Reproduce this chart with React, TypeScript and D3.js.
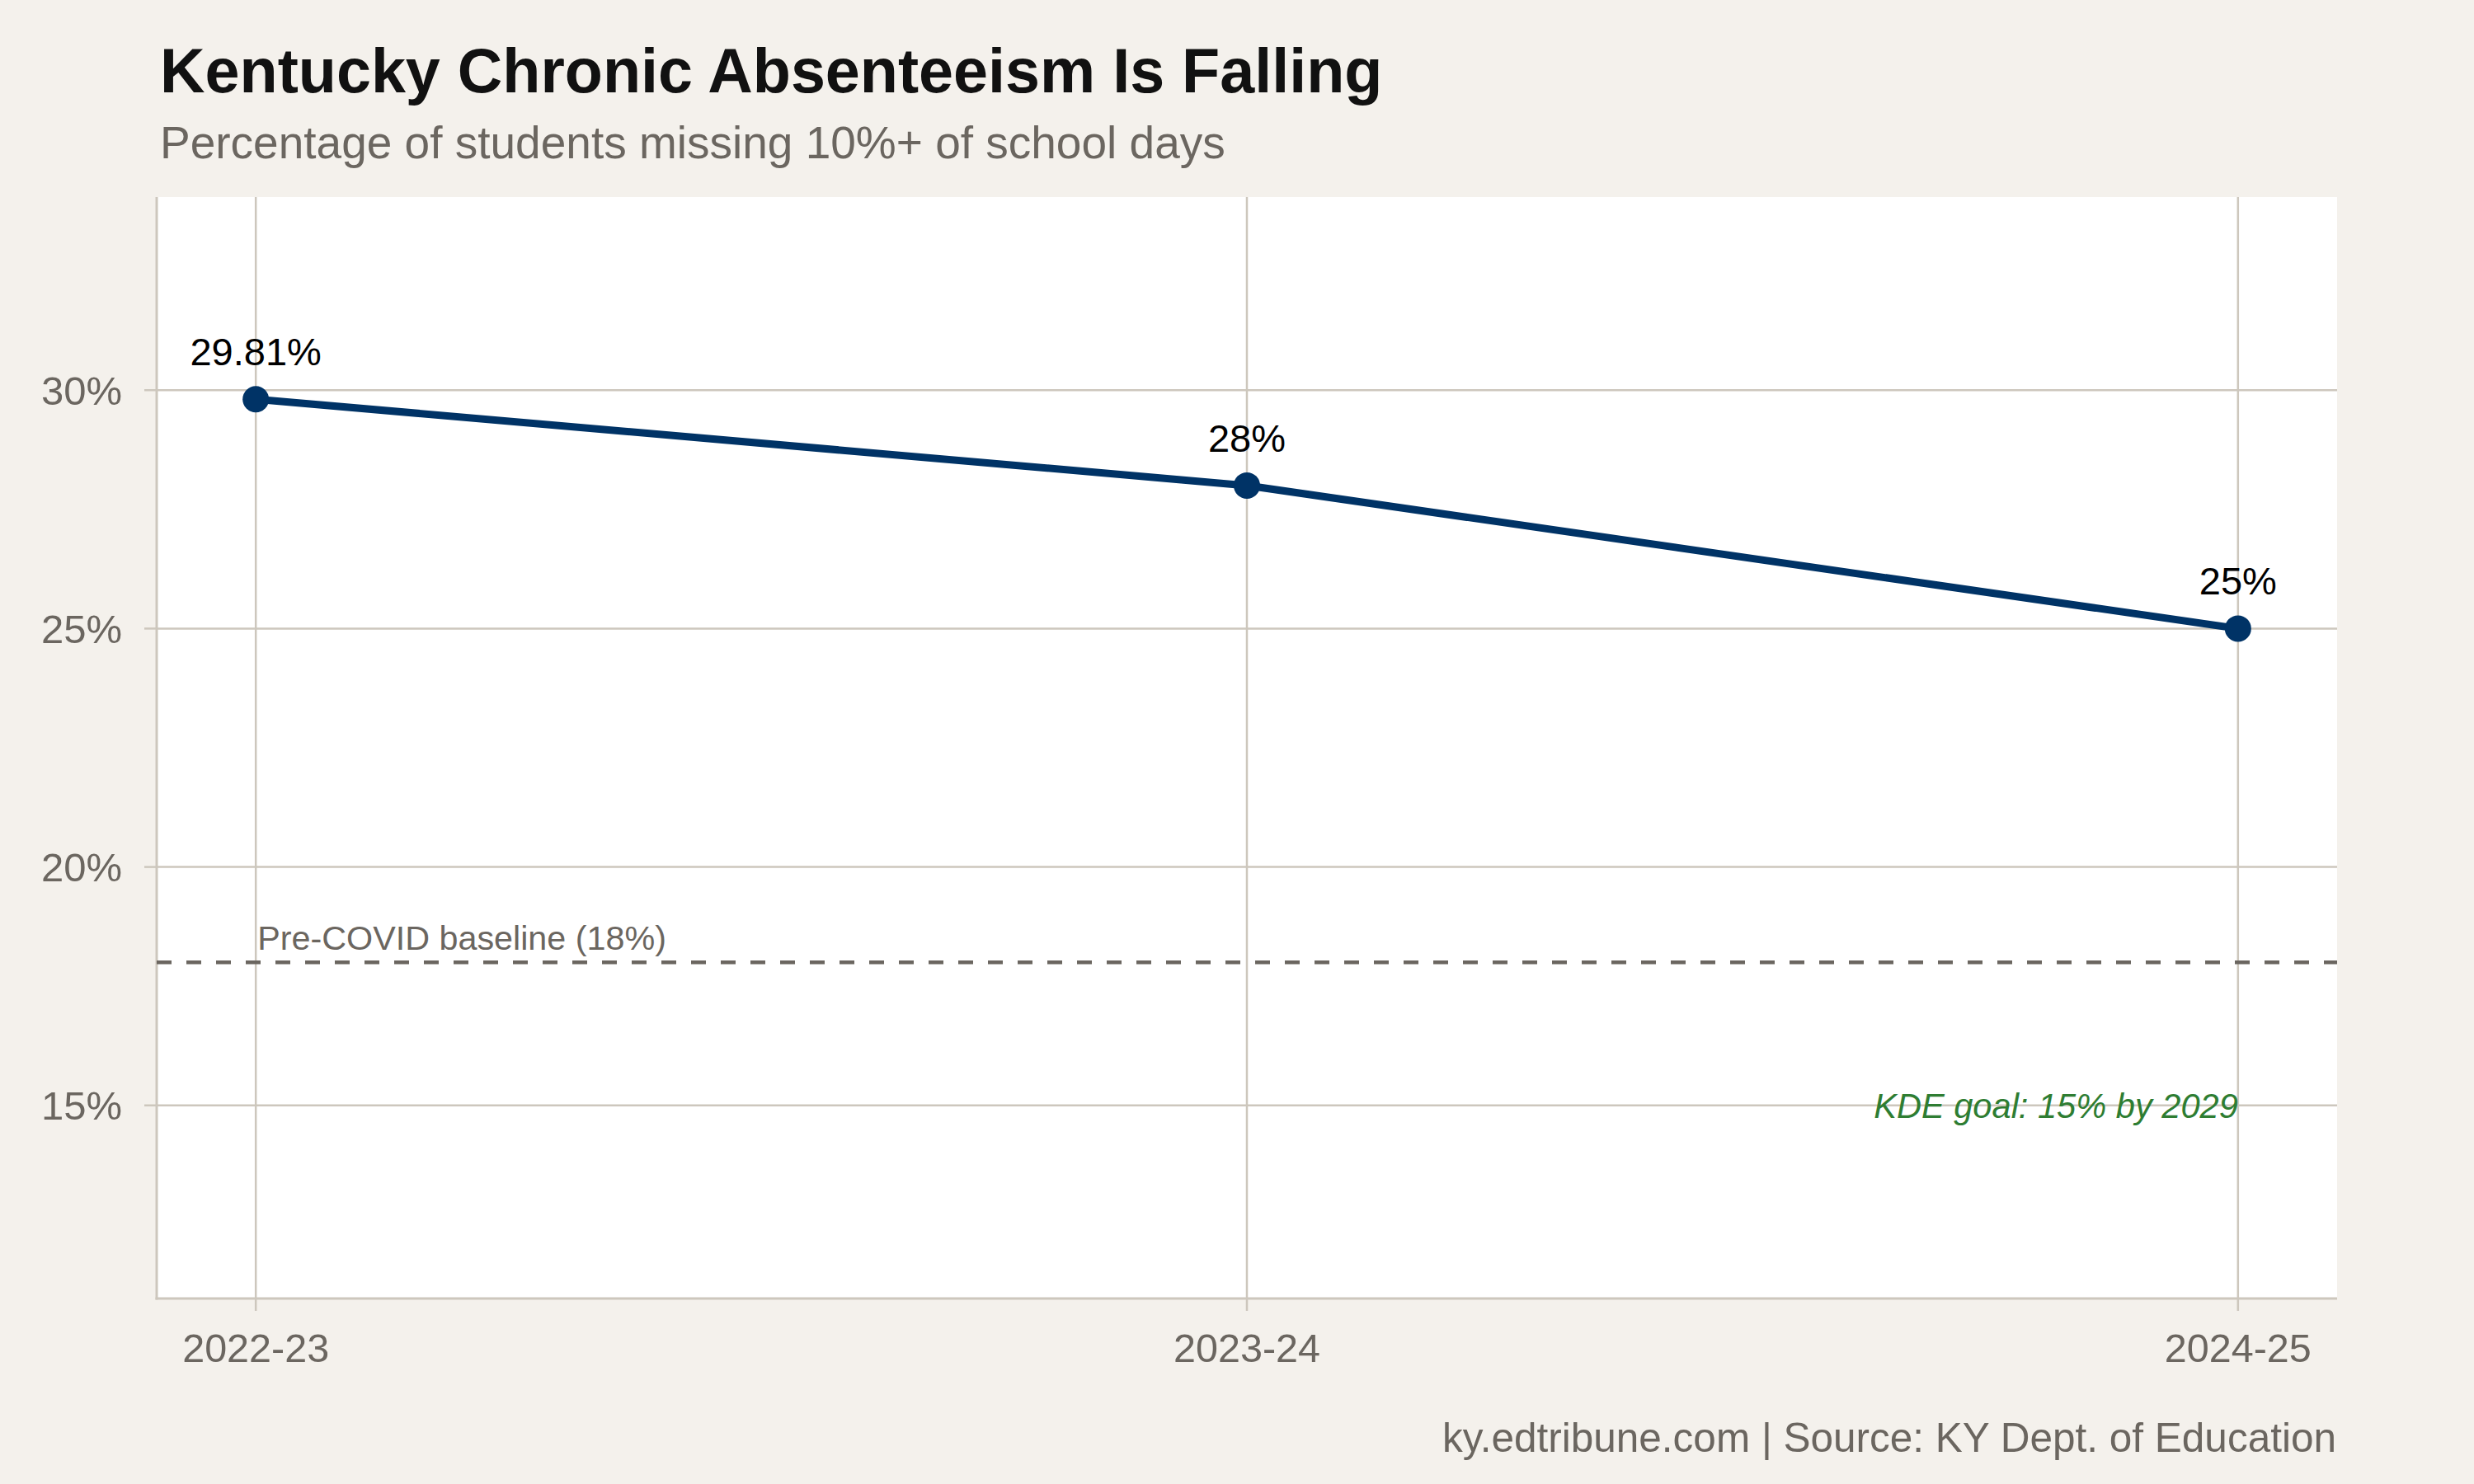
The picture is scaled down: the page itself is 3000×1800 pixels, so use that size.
import React from "react";
import * as d3 from "d3";

const years = ["2022-23", "2023-24", "2024-25"];
const rates = [29.81, 28, 25];
const valueLabels = ["29.81%", "28%", "25%"];
const yTicks = [15, 20, 25, 30];
const baselineValue = 18;
const baselineLabel = "Pre-COVID baseline (18%)";
const goalValue = 15;
const goalLabel = "KDE goal: 15% by 2029";
const title = "Kentucky Chronic Absenteeism Is Falling";
const subtitle = "Percentage of students missing 10%+ of school days";
const caption = "ky.edtribune.com | Source: KY Dept. of Education";

const W = 3000;
const H = 1800;
const panel = { left: 190, right: 2834, top: 239, bottom: 1575 };
const FONT = "'Liberation Sans', Arial, Helvetica, sans-serif";
const GRID = "#cdc7bd";
const GRAY = "#6b6660";
const NAVY = "#003366";

export default function App() {
  const x = d3.scalePoint<string>().domain(years).range([panel.left, panel.right]).padding(0.1);
  const yMin = 12, yMax = 33;
  const pad = (yMax - yMin) * 0.05;
  const y = d3.scaleLinear().domain([yMin - pad, yMax + pad]).range([panel.bottom, panel.top]);
  const pts = years.map((yr, i) => ({ yr, v: rates[i], label: valueLabels[i] }));
  const line = d3.line<{ yr: string; v: number }>().x((d) => x(d.yr)!).y((d) => y(d.v));

  return (
    <svg width={W} height={H} style={{ display: "block", position: "absolute", left: 0, top: 0 }} fontFamily={FONT}>
      <rect x={0} y={0} width={W} height={H} fill="#f4f1ec" />
      <text x={194} y={112} fontSize={75.5} fontWeight="bold" fill="#111111">{title}</text>
      <text x={194} y={192} fontSize={55} fill={GRAY}>{subtitle}</text>

      <rect x={panel.left} y={panel.top} width={panel.right - panel.left} height={panel.bottom - panel.top} fill="#ffffff" />
      {yTicks.map((t) => (
        <line key={"gy" + t} x1={panel.left} x2={panel.right} y1={y(t)} y2={y(t)} stroke={GRID} strokeWidth={2.5} />
      ))}
      {years.map((yr) => (
        <line key={"gx" + yr} x1={x(yr)} x2={x(yr)} y1={panel.top} y2={panel.bottom} stroke={GRID} strokeWidth={2.5} />
      ))}

      {/* axes */}
      <line x1={panel.left} x2={panel.left} y1={panel.top} y2={panel.bottom + 1.5} stroke={GRID} strokeWidth={3} />
      <line x1={panel.left - 1.5} x2={panel.right} y1={panel.bottom} y2={panel.bottom} stroke={GRID} strokeWidth={3} />
      {yTicks.map((t) => (
        <g key={"ty" + t}>
          <line x1={panel.left - 15} x2={panel.left} y1={y(t)} y2={y(t)} stroke={GRID} strokeWidth={2.5} />
          <text x={148} y={y(t)} dy="0.36em" textAnchor="end" fontSize={49} fill={GRAY}>{t + "%"}</text>
        </g>
      ))}
      {years.map((yr) => (
        <g key={"tx" + yr}>
          <line x1={x(yr)} x2={x(yr)} y1={panel.bottom} y2={panel.bottom + 15} stroke={GRID} strokeWidth={2.5} />
          <text x={x(yr)} y={1652} textAnchor="middle" fontSize={48.5} fill={GRAY}>{yr}</text>
        </g>
      ))}

      {/* baseline */}
      <line x1={panel.left} x2={panel.right} y1={y(baselineValue)} y2={y(baselineValue)} stroke={GRAY} strokeWidth={4.5} strokeDasharray="18 18" />
      <text x={x(years[0])! + 2} y={y(baselineValue) - 15} fontSize={41.3} fill={GRAY}>{baselineLabel}</text>
      <text x={x(years[2])} y={y(goalValue)} dy="0.36em" textAnchor="end" fontSize={41.6} fontStyle="italic" fill="#2e7d32">{goalLabel}</text>

      {/* series */}
      <path d={line(pts) || ""} fill="none" stroke={NAVY} strokeWidth={9} strokeLinejoin="round" />
      {pts.map((p) => (
        <g key={"p" + p.yr}>
          <circle cx={x(p.yr)} cy={y(p.v)} r={16} fill={NAVY} />
          <text x={x(p.yr)} y={y(p.v) - 41} textAnchor="middle" fontSize={47} fill="#000000">{p.label}</text>
        </g>
      ))}

      <text x={2833} y={1761} textAnchor="end" fontSize={49.5} fill={GRAY}>{caption}</text>
    </svg>
  );
}
